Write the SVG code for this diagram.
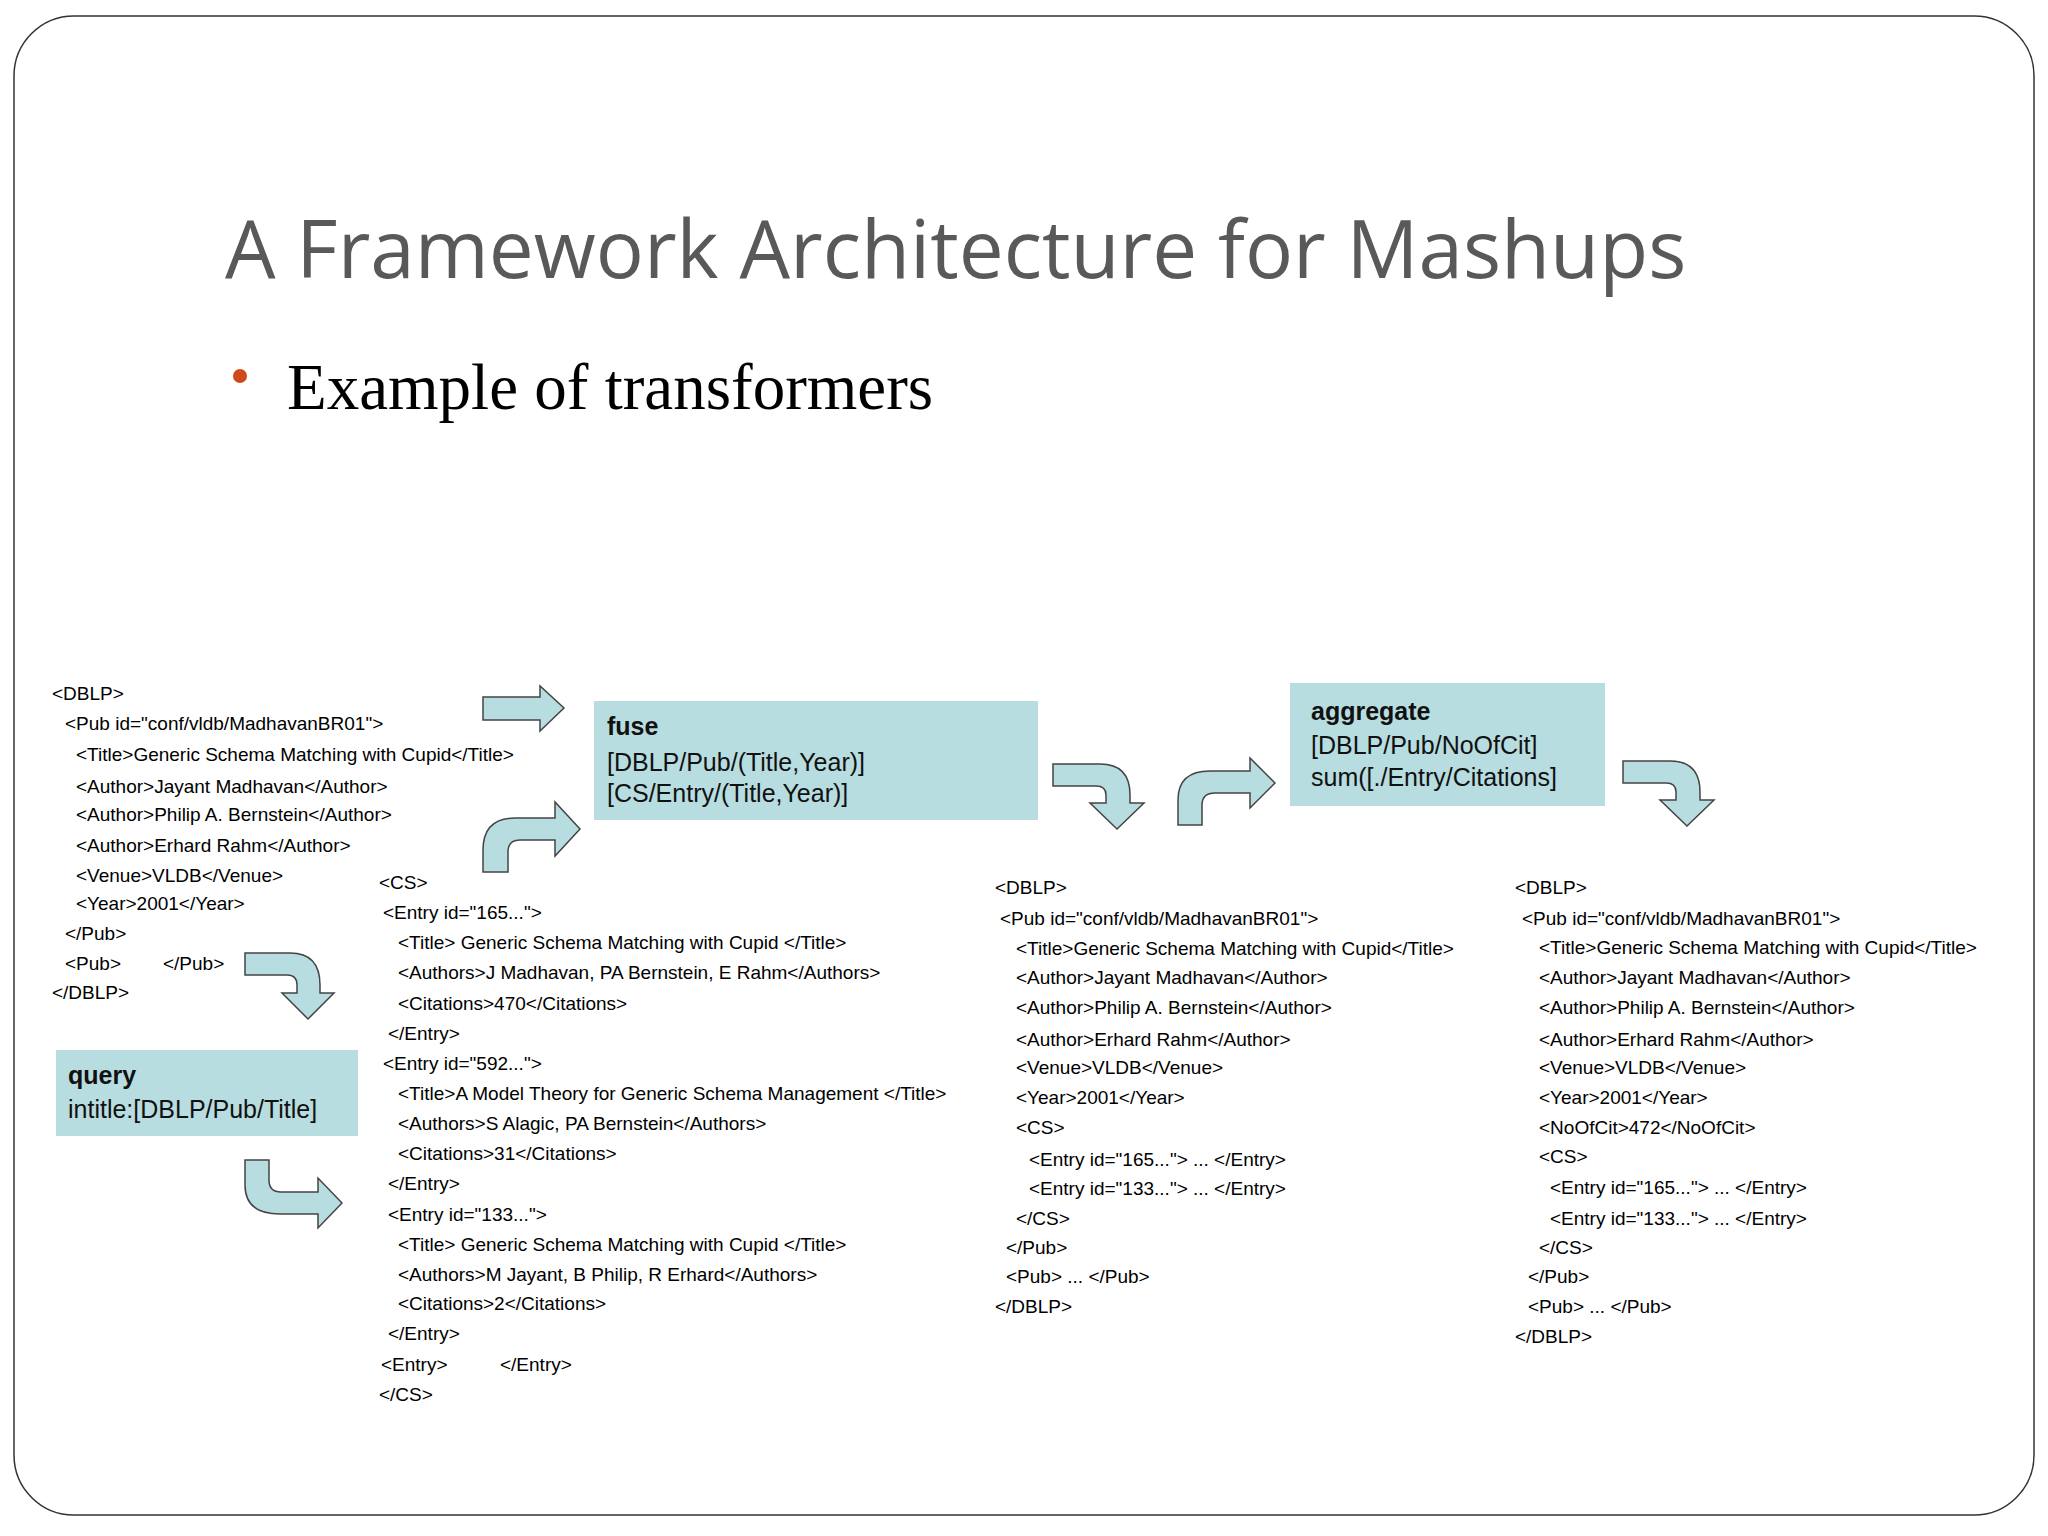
<svg xmlns="http://www.w3.org/2000/svg" width="2048" height="1536" viewBox="0 0 2048 1536">
<style>
.x{font-family:"Liberation Sans",Arial,sans-serif;font-size:19px;fill:#000}
.b{font-family:"Liberation Sans",Arial,sans-serif;font-size:25px;fill:#111}
.bb{font-weight:bold}
.box{fill:#b7dde0}
.ar{fill:#b7dde0;stroke:#444;stroke-width:1.5}
</style>
<rect x="0" y="0" width="2048" height="1536" fill="#fff"/>
<rect x="14" y="16" width="2020" height="1499" rx="60" fill="#fff" stroke="#333" stroke-width="1.5"/>
<text x="225" y="278" font-family="'Open Sans','Liberation Sans',sans-serif" font-size="80" fill="#595959">A Framework Architecture for Mashups</text>
<circle cx="240" cy="376" r="7" fill="#d0491c"/>
<text x="287" y="409" font-family="'Liberation Serif',serif" font-size="65" fill="#000">Example of transformers</text>

<g id="fuse"><rect class="box" x="594" y="701" width="444" height="119"/>
<text class="b bb" x="607" y="735">fuse</text><text class="b" x="607" y="771">[DBLP/Pub/(Title,Year)]</text><text class="b" x="607" y="802">[CS/Entry/(Title,Year)]</text></g>
<g id="aggregate"><rect class="box" x="1290" y="683" width="315" height="123"/>
<text class="b bb" x="1311" y="720">aggregate</text><text class="b" x="1311" y="754">[DBLP/Pub/NoOfCit]</text><text class="b" x="1311" y="786">sum([./Entry/Citations]</text></g>
<g id="query"><rect class="box" x="56" y="1050" width="302" height="86"/>
<text class="b bb" x="68" y="1084">query</text><text class="b" x="68" y="1118">intitle:[DBLP/Pub/Title]</text></g>

<g id="connectors">
<path class="ar" d="M483,697 L540,697 L540,686 L564,708 L540,731 L540,720 L483,720 Z"/>
<path class="ar" d="M483,872 L483,850 Q483,818 515,818 L555,818 L555,802 L580,829 L555,856 L555,840 L520,840 Q508,840 508,852 L508,872 Z"/>
<path class="ar" d="M245,953 L290,953 Q320,953 320,985 L320,993 L334,993 L308,1019 L282,993 L297,993 L297,985 Q297,975 287,975 L245,975 Z"/>
<path class="ar" d="M245,1160 L269,1160 L269,1180 Q269,1192 281,1192 L318,1192 L318,1178 L342,1203 L318,1228 L318,1214 L280,1214 Q245,1214 245,1185 Z"/>
<path class="ar" d="M1053,764 L1100,764 Q1130,764 1130,795 L1130,803 L1144,803 L1117,829 L1090,803 L1106,803 L1106,795 Q1106,786 1096,786 L1053,786 Z"/>
<path class="ar" d="M1178,825 L1178,800 Q1178,771 1210,771 L1250,771 L1250,758 L1275,783 L1250,808 L1250,793 L1215,793 Q1202,793 1202,805 L1202,825 Z"/>
<path class="ar" d="M1623,761 L1670,761 Q1700,761 1700,792 L1700,800 L1714,800 L1687,826 L1660,800 L1676,800 L1676,792 Q1676,783 1666,783 L1623,783 Z"/>
</g>

<g id="dblp-in">
<text class="x" x="52" y="700">&lt;DBLP&gt;</text>
<text class="x" x="65" y="730">&lt;Pub id="conf/vldb/MadhavanBR01"&gt;</text>
<text class="x" x="76" y="761">&lt;Title&gt;Generic Schema Matching with Cupid&lt;/Title&gt;</text>
<text class="x" x="76" y="793">&lt;Author&gt;Jayant Madhavan&lt;/Author&gt;</text>
<text class="x" x="76" y="821">&lt;Author&gt;Philip A. Bernstein&lt;/Author&gt;</text>
<text class="x" x="76" y="852">&lt;Author&gt;Erhard Rahm&lt;/Author&gt;</text>
<text class="x" x="76" y="882">&lt;Venue&gt;VLDB&lt;/Venue&gt;</text>
<text class="x" x="76" y="910">&lt;Year&gt;2001&lt;/Year&gt;</text>
<text class="x" x="65" y="940">&lt;/Pub&gt;</text>
<text class="x" x="65" y="970">&lt;Pub&gt;</text><text class="x" x="163" y="970">&lt;/Pub&gt;</text>
<text class="x" x="52" y="999">&lt;/DBLP&gt;</text>
</g>

<g id="cs-in">
<text class="x" x="379" y="889">&lt;CS&gt;</text>
<text class="x" x="383" y="919">&lt;Entry id="165..."&gt;</text>
<text class="x" x="398" y="949">&lt;Title&gt; Generic Schema Matching with Cupid &lt;/Title&gt;</text>
<text class="x" x="398" y="979">&lt;Authors&gt;J Madhavan, PA Bernstein, E Rahm&lt;/Authors&gt;</text>
<text class="x" x="398" y="1010">&lt;Citations&gt;470&lt;/Citations&gt;</text>
<text class="x" x="388" y="1040">&lt;/Entry&gt;</text>
<text class="x" x="383" y="1070">&lt;Entry id="592..."&gt;</text>
<text class="x" x="398" y="1100">&lt;Title&gt;A Model Theory for Generic Schema Management &lt;/Title&gt;</text>
<text class="x" x="398" y="1130">&lt;Authors&gt;S Alagic, PA Bernstein&lt;/Authors&gt;</text>
<text class="x" x="398" y="1160">&lt;Citations&gt;31&lt;/Citations&gt;</text>
<text class="x" x="388" y="1190">&lt;/Entry&gt;</text>
<text class="x" x="388" y="1221">&lt;Entry id="133..."&gt;</text>
<text class="x" x="398" y="1251">&lt;Title&gt; Generic Schema Matching with Cupid &lt;/Title&gt;</text>
<text class="x" x="398" y="1281">&lt;Authors&gt;M Jayant, B Philip, R Erhard&lt;/Authors&gt;</text>
<text class="x" x="398" y="1310">&lt;Citations&gt;2&lt;/Citations&gt;</text>
<text class="x" x="388" y="1340">&lt;/Entry&gt;</text>
<text class="x" x="381" y="1371">&lt;Entry&gt;</text><text class="x" x="500" y="1371">&lt;/Entry&gt;</text>
<text class="x" x="379" y="1401">&lt;/CS&gt;</text>
</g>

<g id="dblp-fused">
<text class="x" x="995" y="894">&lt;DBLP&gt;</text>
<text class="x" x="1000" y="925">&lt;Pub id="conf/vldb/MadhavanBR01"&gt;</text>
<text class="x" x="1016" y="955">&lt;Title&gt;Generic Schema Matching with Cupid&lt;/Title&gt;</text>
<text class="x" x="1016" y="984">&lt;Author&gt;Jayant Madhavan&lt;/Author&gt;</text>
<text class="x" x="1016" y="1014">&lt;Author&gt;Philip A. Bernstein&lt;/Author&gt;</text>
<text class="x" x="1016" y="1046">&lt;Author&gt;Erhard Rahm&lt;/Author&gt;</text>
<text class="x" x="1016" y="1074">&lt;Venue&gt;VLDB&lt;/Venue&gt;</text>
<text class="x" x="1016" y="1104">&lt;Year&gt;2001&lt;/Year&gt;</text>
<text class="x" x="1016" y="1134">&lt;CS&gt;</text>
<text class="x" x="1029" y="1166">&lt;Entry id="165..."&gt; ... &lt;/Entry&gt;</text>
<text class="x" x="1029" y="1195">&lt;Entry id="133..."&gt; ... &lt;/Entry&gt;</text>
<text class="x" x="1016" y="1225">&lt;/CS&gt;</text>
<text class="x" x="1006" y="1254">&lt;/Pub&gt;</text>
<text class="x" x="1006" y="1283">&lt;Pub&gt; ... &lt;/Pub&gt;</text>
<text class="x" x="995" y="1313">&lt;/DBLP&gt;</text>
</g>

<g id="dblp-aggregated">
<text class="x" x="1515" y="894">&lt;DBLP&gt;</text>
<text class="x" x="1522" y="925">&lt;Pub id="conf/vldb/MadhavanBR01"&gt;</text>
<text class="x" x="1539" y="954">&lt;Title&gt;Generic Schema Matching with Cupid&lt;/Title&gt;</text>
<text class="x" x="1539" y="984">&lt;Author&gt;Jayant Madhavan&lt;/Author&gt;</text>
<text class="x" x="1539" y="1014">&lt;Author&gt;Philip A. Bernstein&lt;/Author&gt;</text>
<text class="x" x="1539" y="1046">&lt;Author&gt;Erhard Rahm&lt;/Author&gt;</text>
<text class="x" x="1539" y="1074">&lt;Venue&gt;VLDB&lt;/Venue&gt;</text>
<text class="x" x="1539" y="1104">&lt;Year&gt;2001&lt;/Year&gt;</text>
<text class="x" x="1539" y="1134">&lt;NoOfCit&gt;472&lt;/NoOfCit&gt;</text>
<text class="x" x="1539" y="1163">&lt;CS&gt;</text>
<text class="x" x="1550" y="1194">&lt;Entry id="165..."&gt; ... &lt;/Entry&gt;</text>
<text class="x" x="1550" y="1225">&lt;Entry id="133..."&gt; ... &lt;/Entry&gt;</text>
<text class="x" x="1539" y="1254">&lt;/CS&gt;</text>
<text class="x" x="1528" y="1283">&lt;/Pub&gt;</text>
<text class="x" x="1528" y="1313">&lt;Pub&gt; ... &lt;/Pub&gt;</text>
<text class="x" x="1515" y="1343">&lt;/DBLP&gt;</text>
</g>
</svg>
